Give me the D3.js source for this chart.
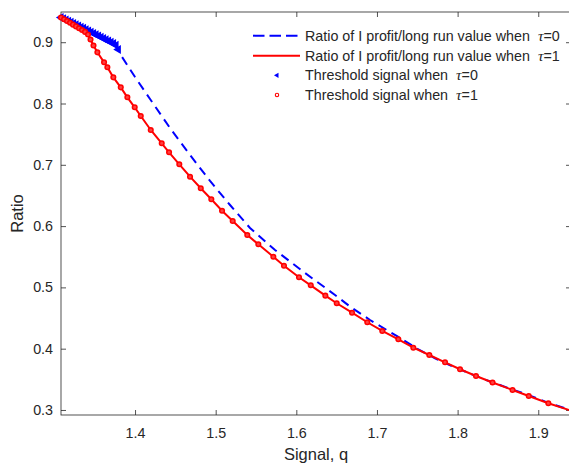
<!DOCTYPE html>
<html>
<head>
<meta charset="utf-8">
<script src="https://cdn.jsdelivr.net/npm/d3@7"></script>
<style>
  body { margin: 0; background: #fff; }
  svg { display: block; }
</style>
</head>
<body>
<script>
// ticks
const xTicks = [1.4, 1.5, 1.6, 1.7, 1.8, 1.9];
const yTicks = [0.3, 0.4, 0.5, 0.6, 0.7, 0.8, 0.9];

// threshold signals, tau = 0 (blue triangles)
const thr0Q = [1.3082, 1.3113, 1.3144, 1.3175, 1.3206, 1.3237, 1.3268, 1.3299, 1.3330, 1.3361,
  1.3392, 1.3423, 1.3454, 1.3485, 1.3516, 1.3547, 1.3578, 1.3609, 1.3640, 1.3671,
  1.3702, 1.3733, 1.3764, 1.3793];
const thr0R = [0.9403, 0.9383, 0.9364, 0.9344, 0.9325, 0.9305, 0.9286, 0.9266, 0.9246, 0.9227,
  0.9206, 0.9184, 0.9165, 0.9144, 0.9124, 0.9103, 0.9082, 0.9060, 0.9041, 0.9020,
  0.9000, 0.8979, 0.8951, 0.8881];

// threshold signals, tau = 1 (red circles)
const thr1Q = [1.3082, 1.3120, 1.3157, 1.3194, 1.3231, 1.3268, 1.3306, 1.3343, 1.3380, 1.3417,
  1.3448, 1.3485, 1.3533, 1.3616, 1.3657, 1.3731, 1.3823, 1.3905, 1.3996, 1.4071,
  1.4195, 1.4331, 1.4422, 1.4549, 1.4682, 1.4815, 1.4946, 1.5079, 1.5211, 1.5392,
  1.5529, 1.5715, 1.5847, 1.6033, 1.6179, 1.6360, 1.6501, 1.6691, 1.6880, 1.7066,
  1.7265, 1.7451, 1.7649, 1.7844, 1.8030, 1.8228, 1.8433, 1.8681, 1.8882, 1.9125];
const thr1R = [0.9403, 0.9374, 0.9346, 0.9317, 0.9287, 0.9258, 0.9228, 0.9199, 0.9168, 0.9126,
  0.9044, 0.8946, 0.8835, 0.8672, 0.8591, 0.8427, 0.8264, 0.8101, 0.7938, 0.7796,
  0.7568, 0.7351, 0.7204, 0.7008, 0.6806, 0.6617, 0.6437, 0.6251, 0.6083, 0.5855,
  0.5703, 0.5501, 0.5354, 0.5165, 0.5034, 0.4865, 0.4741, 0.4587, 0.4431, 0.4289,
  0.4153, 0.4016, 0.3897, 0.3778, 0.3664, 0.3555, 0.3449, 0.3326, 0.3228, 0.3109];

// ratio curve, tau = 0 (blue dashed)
const tau0Q = [1.3082, 1.3361, 1.3578, 1.3702, 1.3764, 1.3793, 1.3839, 1.4000, 1.4186, 1.4434,
  1.4682, 1.4930, 1.5178, 1.5426, 1.5736, 1.6108, 1.6480, 1.6666, 1.6914, 1.7121,
  1.7327, 1.7513, 1.7720, 1.7947, 1.8154, 1.8402, 1.8681, 1.8898, 1.9125, 1.9406];
const tau0R = [0.9403, 0.9227, 0.9082, 0.9000, 0.8951, 0.8881, 0.8759, 0.8432, 0.8073, 0.7600,
  0.7160, 0.6736, 0.6344, 0.5969, 0.5610, 0.5235, 0.4876, 0.4688, 0.4468, 0.4305,
  0.4142, 0.3990, 0.3843, 0.3706, 0.3594, 0.3465, 0.3333, 0.3235, 0.3116, 0.2995];

// ratio curve, tau = 1 (red solid): through the red markers to the right edge
const tau1Q = thr1Q.concat([1.9406]);
const tau1R = thr1R.concat([0.2989]);

const legendLabels = [
  ["Ratio of I profit/long run value when ", "0"],
  ["Ratio of I profit/long run value when ", "1"],
  ["Threshold signal when ", "0"],
  ["Threshold signal when ", "1"]
];

const width = 569, height = 466;
const plotL = 61, plotR = 571, plotT = 12, plotB = 415;
const font = "'Liberation Sans', Arial, Helvetica, sans-serif";
const axisColor = "#262626";

const x = d3.scaleLinear().domain([1.3082, 1.9406]).range([plotL, plotR]);
const y = d3.scaleLinear().domain([0.2918, 0.9493]).range([plotB, plotT]);

const svg = d3.select("body").append("svg")
  .attr("width", width)
  .attr("height", height)
  .style("font-family", font);

function styleAxis(g, labels) {
  g.select(".domain").remove();
  g.selectAll(".tick line").attr("stroke", axisColor).attr("stroke-width", 0.8);
  g.selectAll(".tick text")
    .attr("fill", axisColor)
    .style("font-size", "14.3px")
    .style("font-family", font);
  if (!labels) g.selectAll(".tick text").remove();
}

svg.append("g").attr("transform", `translate(0,${plotB})`)
  .call(d3.axisBottom(x).tickValues(xTicks).tickSize(-5).tickPadding(13).tickFormat(d3.format(".1f")))
  .call(g => styleAxis(g, true));
svg.append("g").attr("transform", `translate(0,${plotT})`)
  .call(d3.axisTop(x).tickValues(xTicks).tickSize(-5))
  .call(g => styleAxis(g, false));
svg.append("g").attr("transform", `translate(${plotL},0)`)
  .call(d3.axisLeft(y).tickValues(yTicks).tickSize(-5).tickPadding(8).tickFormat(d3.format(".1f")))
  .call(g => styleAxis(g, true));
svg.append("g").attr("transform", `translate(${plotR},0)`)
  .call(d3.axisRight(y).tickValues(yTicks).tickSize(-5))
  .call(g => styleAxis(g, false));

// frame
svg.append("rect")
  .attr("x", plotL).attr("y", plotT)
  .attr("width", plotR - plotL).attr("height", plotB - plotT)
  .attr("fill", "none")
  .attr("stroke", axisColor)
  .attr("stroke-width", 0.8);

// axis labels
svg.append("text")
  .attr("x", (plotL + plotR) / 2)
  .attr("y", 460)
  .attr("text-anchor", "middle")
  .attr("fill", axisColor)
  .style("font-size", "16.5px")
  .text("Signal, q");

svg.append("text")
  .attr("transform", `translate(23,${(plotT + plotB) / 2}) rotate(-90)`)
  .attr("text-anchor", "middle")
  .attr("fill", axisColor)
  .style("font-size", "16.5px")
  .text("Ratio");

const plot = svg.append("g");

const line = d3.line().x(d => x(d[0])).y(d => y(d[1]));

plot.append("path")
  .datum(tau0Q.map((q, i) => [q, tau0R[i]]))
  .attr("d", line)
  .attr("fill", "none")
  .attr("stroke", "#0000ff")
  .attr("stroke-width", 2)
  .attr("stroke-dasharray", "9,6");

plot.append("path")
  .datum(tau1Q.map((q, i) => [q, tau1R[i]]))
  .attr("d", line)
  .attr("fill", "none")
  .attr("stroke", "#ff0000")
  .attr("stroke-width", 2);

const tri = d3.symbol().type(d3.symbolTriangle).size(34);

plot.selectAll(".thr0")
  .data(thr0Q.map((q, i) => [q, thr0R[i]]))
  .join("path")
  .attr("class", "thr0")
  .attr("d", tri)
  .attr("transform", d => `translate(${x(d[0])},${y(d[1])}) rotate(-90)`)
  .attr("fill", "#0000ff");

plot.selectAll(".thr1")
  .data(thr1Q.map((q, i) => [q, thr1R[i]]))
  .join("circle")
  .attr("class", "thr1")
  .attr("cx", d => x(d[0]))
  .attr("cy", d => y(d[1]))
  .attr("r", 2.3)
  .attr("fill", "#ff4040")
  .attr("stroke", "#ff0000")
  .attr("stroke-width", 1.5);

// legend
const legend = svg.append("g");
const rowY = [35.7, 55.7, 75.3, 95];

legend.append("line")
  .attr("x1", 253).attr("x2", 300).attr("y1", rowY[0]).attr("y2", rowY[0])
  .attr("stroke", "#0000ff").attr("stroke-width", 2).attr("stroke-dasharray", "11.5,5");
legend.append("line")
  .attr("x1", 253).attr("x2", 300).attr("y1", rowY[1]).attr("y2", rowY[1])
  .attr("stroke", "#ff0000").attr("stroke-width", 2);
legend.append("path")
  .attr("d", d3.symbol().type(d3.symbolTriangle).size(12))
  .attr("transform", `translate(277,${rowY[2]}) rotate(-90)`)
  .attr("fill", "#0000ff");
legend.append("circle")
  .attr("cx", 277).attr("cy", rowY[3]).attr("r", 1.7)
  .attr("fill", "#fff").attr("stroke", "#ff0000").attr("stroke-width", 1.1);

legendLabels.forEach((lab, i) => {
  const t = legend.append("text")
    .attr("x", 305)
    .attr("y", rowY[i])
    .attr("dy", "0.36em")
    .attr("fill", axisColor)
    .style("font-size", "14.3px");
  t.append("tspan").text(lab[0]);
  t.append("tspan")
    .attr("dx", 4)
    .style("font-family", "'Liberation Serif', 'DejaVu Serif', serif")
    .style("font-style", "italic")
    .style("font-size", "15.5px")
    .text("\u03c4");
  t.append("tspan").text("=" + lab[1]);
});
</script>
</body>
</html>
